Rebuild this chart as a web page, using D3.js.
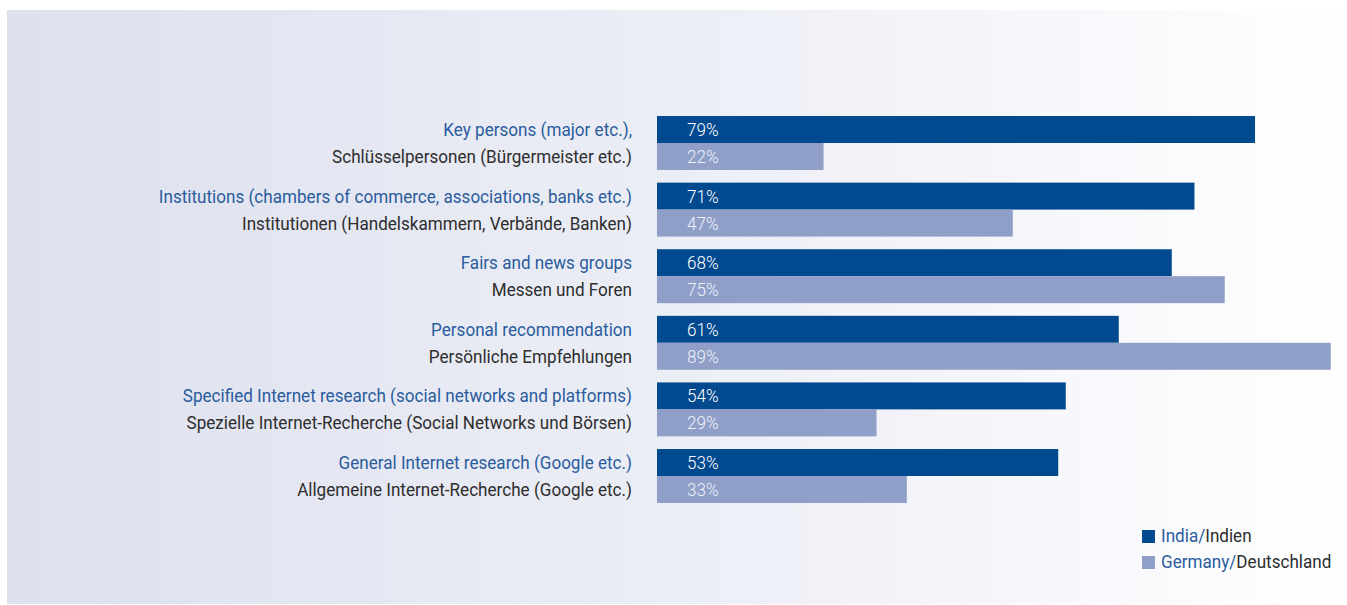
<!DOCTYPE html>
<html>
<head>
<meta charset="utf-8">
<script src="https://cdn.jsdelivr.net/npm/d3@7"></script>
<style>
  html, body { margin: 0; padding: 0; background: #ffffff; }
  svg { display: block; }
</style>
</head>
<body>
<svg id="chart" width="1347" height="605"></svg>
<script>
// Channels used to find business partners, India vs. Germany (share of respondents, %)
const categoriesEn = [
  "Key persons (major etc.),",
  "Institutions (chambers of commerce, associations, banks etc.)",
  "Fairs and news groups",
  "Personal recommendation",
  "Specified Internet research (social networks and platforms)",
  "General Internet research (Google etc.)"
];
const categoriesDe = [
  "Schlüsselpersonen (Bürgermeister etc.)",
  "Institutionen (Handelskammern, Verbände, Banken)",
  "Messen und Foren",
  "Persönliche Empfehlungen",
  "Spezielle Internet-Recherche (Social Networks und Börsen)",
  "Allgemeine Internet-Recherche (Google etc.)"
];
const india   = [79, 71, 68, 61, 54, 53];
const germany = [22, 47, 75, 89, 29, 33];
const seriesKeys = ["india", "germany"];
const legendEn = ["India", "Germany"];
const legendDe = ["Indien", "Deutschland"];

const W = 1347, H = 605;
const colors = { india: "#024a8f", germany: "#8f9fc8" };
const valueText = { india: "#ffffff", germany: "#eef1f8" };
const blueText = "#2a5c9d", greyText = "#2e2e2e";
const FONT = "Roboto, 'Noto Sans', sans-serif";
const SX = 0.95; // horizontal squeeze for a condensed look

const svg = d3.select("#chart");

// panel background: soft blue-grey fading to white towards the right
const defs = svg.append("defs");
const grad = defs.append("linearGradient").attr("id", "bg")
  .attr("x1", "0%").attr("x2", "100%").attr("y1", "0%").attr("y2", "0%");
grad.append("stop").attr("offset", "0%").attr("stop-color", "#dde1ee");
grad.append("stop").attr("offset", "50%").attr("stop-color", "#eceef6");
grad.append("stop").attr("offset", "100%").attr("stop-color", "#ffffff");
svg.append("rect").attr("x", 7).attr("y", 10).attr("width", W - 7).attr("height", H - 11)
  .attr("fill", "url(#bg)");

const rows = categoriesEn.map((en, i) => ({
  en, de: categoriesDe[i], india: india[i], germany: germany[i]
}));

const y = d3.scaleBand().domain(d3.range(rows.length))
  .range([109.7, 509.3]).paddingInner(0.19).paddingOuter(0.095);
const ySub = d3.scaleBand().domain(seriesKeys).range([0, y.bandwidth()]);
const x = d3.scaleLinear().domain([0, 100]).range([657, 1414]);

const groups = svg.append("g").selectAll("g.row").data(rows).join("g")
  .attr("class", "row")
  .attr("transform", (d, i) => `translate(0,${y(i)})`);

// bars
groups.selectAll("rect").data(d => seriesKeys.map(k => ({ k, v: d[k] }))).join("rect")
  .attr("x", x(0))
  .attr("y", d => ySub(d.k))
  .attr("width", d => x(d.v) - x(0))
  .attr("height", ySub.bandwidth())
  .attr("fill", d => colors[d.k]);

// value labels inside bars
groups.selectAll("g.val").data(d => seriesKeys.map(k => ({ k, v: d[k] }))).join("g")
  .attr("class", "val")
  .attr("transform", d => `translate(${x(0) + 30},${ySub(d.k) + ySub.bandwidth() / 2 + 6.5}) scale(${SX},1)`)
  .append("text")
  .attr("font-family", FONT).attr("font-size", 18).attr("font-weight", 300)
  .attr("fill", d => valueText[d.k])
  .text(d => d.v + "%");

// category labels (English in blue, German in grey)
const labelX = 632;
groups.append("g")
  .attr("transform", `translate(${labelX},${ySub("india") + ySub.bandwidth() / 2 + 6.5}) scale(${SX},1)`)
  .append("text")
  .attr("text-anchor", "end")
  .attr("font-family", FONT).attr("font-size", 18).attr("font-weight", 400)
  .attr("fill", blueText)
  .text(d => d.en);
groups.append("g")
  .attr("transform", `translate(${labelX},${ySub("germany") + ySub.bandwidth() / 2 + 6.5}) scale(${SX},1)`)
  .append("text")
  .attr("text-anchor", "end")
  .attr("font-family", FONT).attr("font-size", 18).attr("font-weight", 400)
  .attr("fill", greyText)
  .text(d => d.de);

// legend
const legend = svg.append("g").selectAll("g").data(seriesKeys).join("g")
  .attr("transform", (d, i) => `translate(1142,${530 + i * 26})`);
legend.append("rect").attr("width", 13).attr("height", 13).attr("fill", d => colors[d]);
const lt = legend.append("g").attr("transform", `translate(19,11.5) scale(${SX},1)`)
  .append("text")
  .attr("font-family", FONT).attr("font-size", 18).attr("font-weight", 400);
lt.append("tspan").attr("fill", blueText).text((d, i) => legendEn[i] + "/");
lt.append("tspan").attr("fill", greyText).text((d, i) => legendDe[i]);
</script>
</body>
</html>
